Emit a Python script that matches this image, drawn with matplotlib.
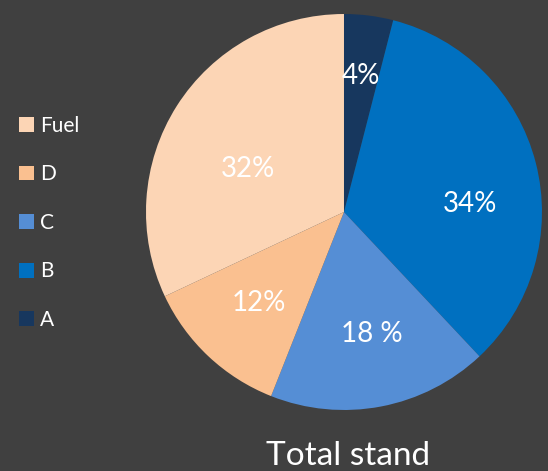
import matplotlib.pyplot as plt
from matplotlib.patches import Rectangle
import numpy as np

plt.rcParams['font.family'] = ['Lato', 'DejaVu Sans']

# slice data, clockwise from 12 o'clock
categories = ['A', 'B', 'C', 'D', 'Fuel']
shares = [4, 34, 18, 12, 32]
pct_labels = ['4%', '34%', '18 %', '12%', '32%']
colors = ['#17375E', '#0070C0', '#558ED5', '#FAC090', '#FCD5B5']

# label placement tweaks (radius fraction, angle shift in degrees)
label_dist = [0.69, 0.64, 0.63, 0.63, 0.53]
label_shift = [0, -11, 2, 0, 8]

bg = '#404040'
fig = plt.figure(figsize=(5.48, 4.71), dpi=100, facecolor=bg)
ax = fig.add_axes([0.2664, 0.1295, 0.7226, 0.8408])
ax.set_facecolor(bg)

wedges, _ = ax.pie(shares, colors=colors, startangle=90, counterclock=False,
                   radius=1, wedgeprops=dict(linewidth=0))
ax.set_xlim(-1, 1)
ax.set_ylim(-1, 1)
ax.axis('off')

for w, lab, d, s in zip(wedges, pct_labels, label_dist, label_shift):
    mid = np.deg2rad((w.theta1 + w.theta2) / 2 + s)
    ax.text(d * np.cos(mid), d * np.sin(mid), lab, color='white',
            fontsize=20, ha='center', va='center')

# legend, top to bottom reversed
handles = [Rectangle((0, 0), 1, 1, facecolor=c) for c in colors[::-1]]
fig.legend(handles, categories[::-1], loc='upper left',
           bbox_to_anchor=(0.0, 0.794), frameon=False, fontsize=15,
           labelcolor='white', handlelength=0.72, handleheight=0.72,
           handletextpad=0.3, labelspacing=1.37)

fig.text(348 / 548, 6 / 471, 'Total stand', color='white', fontsize=24,
         ha='center', va='baseline')

fig.savefig('out.png', dpi=100, facecolor=bg)
